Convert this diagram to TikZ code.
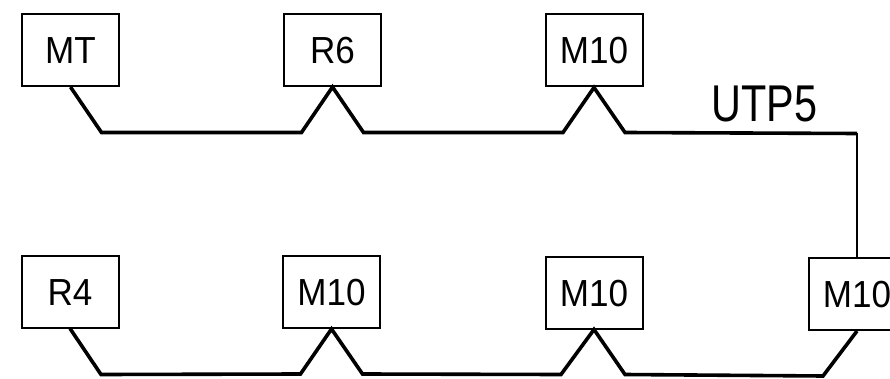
\documentclass[tikz,border=0pt]{standalone}
\usepackage{fontspec}
\newfontfamily\boxfont[FakeStretch=0.93]{Liberation Sans}
\newfontfamily\labfont[FakeStretch=0.80]{Liberation Sans}
\usetikzlibrary{calc}
\begin{document}
\begin{tikzpicture}[x=1pt,y=-1pt,
  devbox/.style={draw,line width=2pt,minimum width=97pt,minimum height=72pt,inner sep=0pt,
    font=\boxfont\fontsize{37.7pt}{40pt}\selectfont,text height=27pt,text depth=0pt},
  cable/.style={line width=3.6pt,line join=miter},
  thincable/.style={line width=2.6pt}]
\useasboundingbox (0,0) rectangle (890,379);
\clip (0,0) rectangle (890,379);
% top row
\node[devbox] (MT) at (70.5,50) {MT};
\node[devbox] (R6) at (332.5,50) {R6};
\node[devbox] (M10a) at (594,50.5) {M10};
% bottom row
\node[devbox] (R4) at (70,291.5) {R4};
\node[devbox] (M10b) at (331.5,292) {M10};
\node[devbox] (M10c) at (594,292.5) {M10};
\node[devbox] (M10d) at (857,294) {M10};
% label
\node[inner sep=0pt,font=\labfont\fontsize{51.7pt}{54pt}\selectfont,text height=37pt,text depth=0pt] (utp) at (764.5,103.5) {UTP5};
% top cable
\coordinate (bend) at (857,133.5);
\draw[cable] (MT.south) -- ++(31,45.5) -- ($(R6.south)+(-31,45.5)$) -- (R6.south)
  -- ++(31,45.5) -- ($(M10a.south)+(-31,45)$) -- (M10a.south) -- ++(31,45) -- (bend);
\draw[thincable] (bend) -- (M10d.north);
% bottom cable
\draw[cable] (R4.south) -- ++(31,46) -- ($(M10b.south)+(-31,45)$) -- (M10b.south)
  -- ++(31,45) -- ($(M10c.south)+(-33,45)$) -- (M10c.south)
  -- ++(31,45) -- ($(M10d.south)+(-34,45)$) -- (M10d.south);
\end{tikzpicture}
\end{document}
